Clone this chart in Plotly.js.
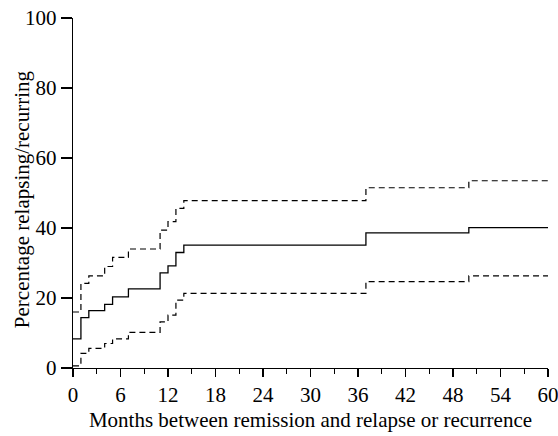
<!DOCTYPE html>
<html>
<head>
<meta charset="utf-8">
<script src="https://cdn.plot.ly/plotly-3.0.1.min.js"></script>
<style>html,body{margin:0;padding:0;background:#fff;}#chart{width:558px;height:436px;}</style>
</head>
<body>
<div id="chart"></div>
<script>
// Months at which the step functions change
const months = [0, 1, 2, 4, 5, 7, 11, 12, 13, 14, 37, 50, 60];
// Cumulative percentage relapsing/recurring (solid)
const estimate = [8.3, 14.4, 16.4, 18.2, 20.3, 22.6, 27.2, 29.2, 33.0, 35.1, 38.6, 40.1, 40.1];
// Upper confidence limit (dashed)
const upper = [16.0, 24.2, 26.3, 29.0, 31.6, 34.0, 39.4, 41.8, 45.6, 47.8, 51.5, 53.5, 53.5];
// Lower confidence limit (dashed)
const lower = [0.6, 4.2, 5.6, 7.0, 8.3, 10.2, 13.2, 15.1, 19.4, 21.3, 24.7, 26.3, 26.3];

const xTicks = [0, 6, 12, 18, 24, 30, 36, 42, 48, 54, 60];
const yTicks = [0, 20, 40, 60, 80, 100];
const xTitle = 'Months between remission and relapse or recurrence';
const yTitle = 'Percentage relapsing/recurring';

const font = {family: 'Liberation Serif, Times New Roman, serif', color: '#000', size: 21};

const traces = [
  {x: months, y: upper, mode: 'lines', line: {shape: 'hv', color: '#000', width: 1.2, dash: '6px,4px'}, hoverinfo: 'skip'},
  {x: months, y: lower, mode: 'lines', line: {shape: 'hv', color: '#000', width: 1.2, dash: '6px,4px'}, hoverinfo: 'skip'},
  {x: months, y: estimate, mode: 'lines', line: {shape: 'hv', color: '#000', width: 1.3}, hoverinfo: 'skip'}
];

const layout = {
  width: 558, height: 436,
  margin: {l: 73, r: 10, t: 18, b: 68},
  paper_bgcolor: '#fff', plot_bgcolor: '#fff',
  showlegend: false,
  font: font,
  xaxis: {
    range: [0, 60], tickmode: 'array', tickvals: xTicks, ticktext: xTicks.map(String),
    showgrid: false, zeroline: false, showline: true, linecolor: '#000', linewidth: 1.2,
    ticks: 'outside', ticklen: 8, tickwidth: 1.2, tickcolor: '#000',
    minor: {dtick: 3, tick0: 0, ticks: 'outside', ticklen: 5, tickwidth: 1.2, tickcolor: '#000', showgrid: false},
    tickfont: font, ticklabeloverflow: 'allow',
    title: {text: xTitle, font: font, standoff: 5}
  },
  yaxis: {
    range: [0, 100], tickmode: 'array', tickvals: yTicks, ticktext: yTicks.map(String),
    showgrid: false, zeroline: false, showline: true, linecolor: '#000', linewidth: 1.2,
    ticks: 'outside', ticklen: 11, tickwidth: 1.2, tickcolor: '#000',
    tickfont: font, ticklabeloverflow: 'allow'
  },
  annotations: [{
    text: yTitle, textangle: -90, showarrow: false,
    xref: 'paper', yref: 'paper', x: -0.107, y: 0.483,
    xanchor: 'center', yanchor: 'middle', font: font
  }]
};

Plotly.newPlot('chart', traces, layout, {staticPlot: true, displayModeBar: false});
</script>
</body>
</html>
